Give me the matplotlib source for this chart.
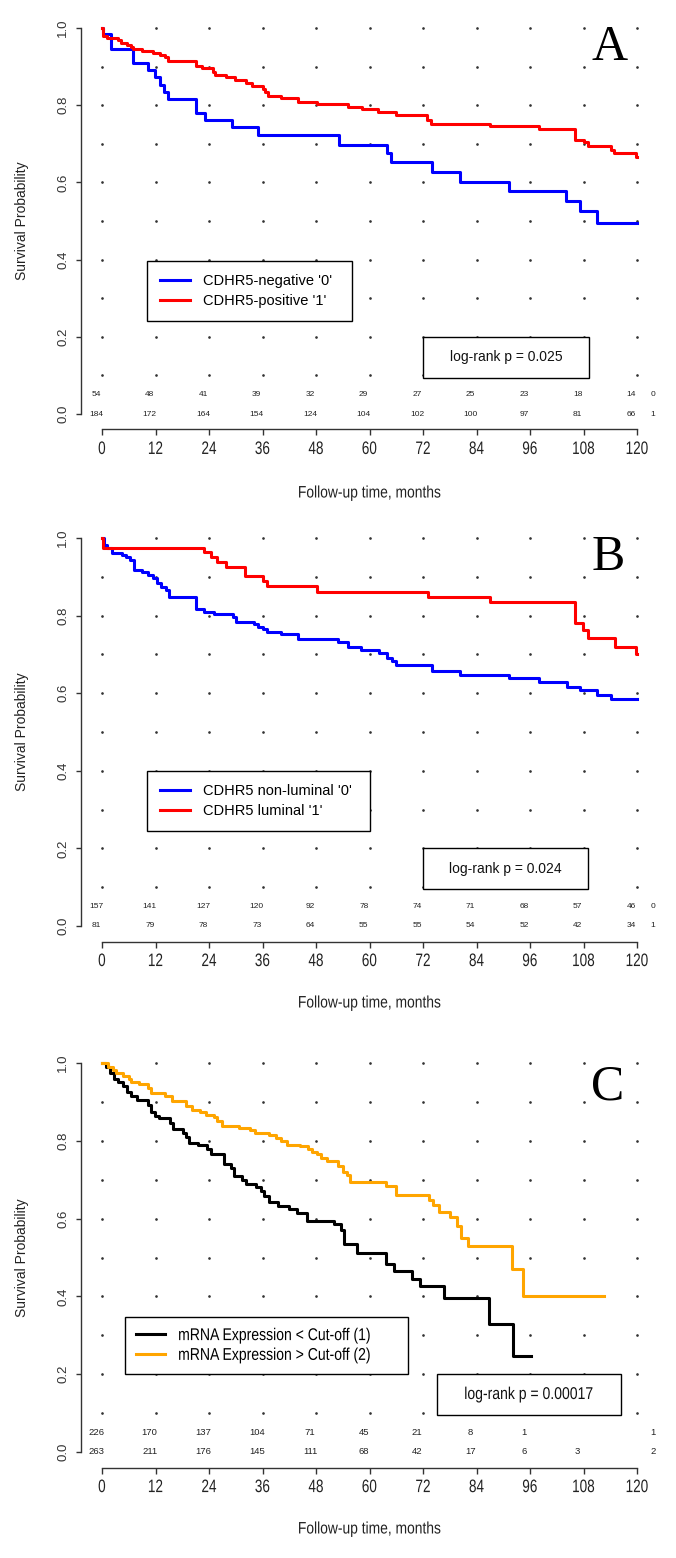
import matplotlib.pyplot as plt
from matplotlib.patches import Rectangle
from matplotlib.patheffects import AbstractPathEffect
from matplotlib.transforms import Affine2D
import numpy as np

# ------------------------------------------------------------
# data (Kaplan-Meier steps, months / survival)
# ------------------------------------------------------------
months = [0, 12, 24, 36, 48, 60, 72, 84, 96, 108, 120]

# panel A
a_neg_t = [0, 0.3, 2.0, 6.9, 10.3, 11.9, 12.9, 14.0, 14.8, 21.1, 23.0, 29.1, 35.1, 53.2,
           63.9, 64.9, 74.1, 80.2, 91.2, 104.1, 107.2, 111.0, 120]
a_neg_s = [1.0, 0.985, 0.945, 0.909, 0.890, 0.873, 0.853, 0.834, 0.816, 0.779, 0.761, 0.743,
           0.724, 0.698, 0.675, 0.652, 0.626, 0.602, 0.579, 0.552, 0.526, 0.494, 0.494]
a_pos_t = [0, 0.2, 1.1, 3.7, 4.2, 5.6, 6.6, 7.0, 9.0, 11.4, 12.9, 14.1, 14.8, 21.1, 22.5,
           24.8, 25.4, 27.8, 29.8, 32.2, 33.7, 36.1, 36.6, 37.2, 40.1, 44.0, 48.2, 55.2,
           58.3, 61.9, 66.0, 72.8, 73.8, 87.0, 98.0, 106.2, 108.1, 109.0, 114.2, 114.9,
           119.8, 120]
a_pos_s = [1.0, 0.979, 0.973, 0.968, 0.962, 0.957, 0.951, 0.946, 0.940, 0.934, 0.929, 0.924,
           0.914, 0.902, 0.896, 0.885, 0.879, 0.873, 0.866, 0.857, 0.850, 0.843, 0.835,
           0.823, 0.818, 0.807, 0.802, 0.795, 0.789, 0.783, 0.774, 0.762, 0.752, 0.745,
           0.738, 0.711, 0.705, 0.694, 0.685, 0.676, 0.667, 0.667]
a_risk0 = [54, 48, 41, 39, 32, 29, 27, 25, 23, 18, 14]
a_risk1 = [184, 172, 164, 154, 124, 104, 102, 100, 97, 81, 66]

# panel B
b_non_t = [0, 0.5, 1.1, 2.2, 4.4, 5.3, 6.3, 7.1, 9.0, 10.3, 11.4, 12.4, 13.3, 14.3, 15.0,
           21.1, 22.8, 25.1, 29.3, 30.1, 34.1, 35.1, 36.1, 37.0, 40.1, 44.0, 53.0, 55.2,
           58.0, 62.2, 63.9, 65.1, 66.0, 74.1, 80.4, 91.2, 98.0, 104.2, 107.3, 111.0,
           114.2, 120]
b_non_s = [1.0, 0.981, 0.975, 0.962, 0.956, 0.950, 0.943, 0.918, 0.912, 0.905, 0.898, 0.885,
           0.873, 0.866, 0.849, 0.816, 0.810, 0.803, 0.796, 0.784, 0.778, 0.771, 0.765,
           0.758, 0.752, 0.739, 0.732, 0.720, 0.711, 0.703, 0.690, 0.683, 0.673, 0.658,
           0.648, 0.638, 0.628, 0.617, 0.607, 0.596, 0.585, 0.585]
b_lum_t = [0, 0.2, 22.8, 24.5, 25.9, 27.8, 32.0, 36.1, 37.0, 48.2, 73.1, 87.0, 106.2, 107.9,
           109.1, 115.1, 119.8, 120]
b_lum_s = [1.0, 0.975, 0.963, 0.951, 0.938, 0.926, 0.901, 0.889, 0.876, 0.862, 0.849, 0.834,
           0.780, 0.762, 0.742, 0.720, 0.700, 0.700]
b_risk0 = [157, 141, 127, 120, 92, 78, 74, 71, 68, 57, 46]
b_risk1 = [81, 79, 78, 73, 64, 55, 55, 54, 52, 42, 34]

# panel C
c_lo_t = [0, 0.8, 1.7, 2.7, 3.7, 4.6, 5.6, 6.6, 7.8, 10.4, 11.1, 11.9, 12.7, 15.3, 16.0,
          18.2, 18.9, 19.6, 21.6, 23.5, 24.5, 27.4, 29.0, 29.6, 31.4, 32.2, 34.6, 35.6,
          36.3, 37.5, 39.5, 41.9, 43.8, 45.9, 52.0, 53.5, 54.2, 57.3, 63.6, 65.6, 69.6,
          71.4, 76.7, 86.8, 92.2, 96.2]
c_lo_s = [1.0, 0.990, 0.975, 0.960, 0.950, 0.940, 0.925, 0.915, 0.905, 0.893, 0.875, 0.863,
          0.858, 0.845, 0.830, 0.820, 0.810, 0.795, 0.790, 0.780, 0.765, 0.740, 0.730,
          0.710, 0.700, 0.688, 0.680, 0.672, 0.658, 0.642, 0.632, 0.625, 0.615, 0.594,
          0.585, 0.570, 0.535, 0.512, 0.483, 0.465, 0.446, 0.426, 0.396, 0.328, 0.246, 0.246]
c_hi_t = [0, 1.3, 2.4, 3.2, 4.6, 6.1, 6.6, 8.2, 10.4, 11.1, 14.1, 15.6, 18.9, 20.1, 22.0,
          23.3, 25.1, 25.9, 26.9, 30.8, 33.2, 34.3, 37.5, 39.0, 40.1, 41.4, 44.3, 46.2,
          47.2, 48.2, 49.1, 50.4, 53.0, 54.0, 54.9, 55.6, 63.8, 66.0, 73.3, 74.3, 75.5,
          78.1, 79.6, 80.6, 82.0, 92.0, 94.4, 112.7]
c_hi_s = [1.0, 0.990, 0.983, 0.975, 0.966, 0.958, 0.950, 0.945, 0.935, 0.924, 0.914, 0.903,
          0.890, 0.880, 0.874, 0.866, 0.860, 0.850, 0.838, 0.834, 0.829, 0.820, 0.815,
          0.808, 0.800, 0.790, 0.786, 0.780, 0.772, 0.765, 0.755, 0.748, 0.735, 0.720,
          0.712, 0.695, 0.683, 0.660, 0.648, 0.635, 0.618, 0.603, 0.580, 0.550, 0.530,
          0.470, 0.402, 0.402]
c_risk1 = [226, 170, 137, 104, 71, 45, 21, 8, 1]
c_risk2 = [263, 211, 176, 145, 111, 68, 42, 17, 6, 3]

# ------------------------------------------------------------
# layout (pixels of the 676 x 1558 image)
# ------------------------------------------------------------
W, H = 676, 1558
SANS = ['Liberation Sans', 'DejaVu Sans']
X0_PX, X120_PX = 102, 637
SX = (X120_PX - X0_PX) / 120.0


class Squeeze(AbstractPathEffect):
    """squeeze glyphs horizontally -> narrow font look (no Arial Narrow here)"""

    def __init__(self, sx=0.8, anchor='center'):
        super().__init__()
        self.sx = sx
        self.anchor = anchor

    def draw_path(self, renderer, gc, tpath, affine, rgbFace=None):
        xs = tpath.vertices[:, 0]
        cx = (xs.min() + xs.max()) / 2 if self.anchor == 'center' else xs.min()
        sq = Affine2D().translate(-cx, 0).scale(self.sx, 1).translate(cx, 0)
        renderer.draw_path(gc, tpath, sq + affine, rgbFace)


fig = plt.figure(figsize=(W / 100, H / 100), dpi=100)


def fx(px):
    return px / W


def fy(py):
    return 1 - py / H


def panel(p1, p0, curves, risk, risk_names, risk_size, legend_box, legend_kw, legend_fx,
          lr_box, lr_text, lr_size, lr_fx, letter, letter_xy, xlab_px):
    sy = p0 - p1
    left = X0_PX - 4.8 * SX
    right = X0_PX + 124.8 * SX
    top = p1 - 0.04 * sy
    bottom = p0 + 0.04 * sy
    ax = fig.add_axes([fx(left), fy(bottom), (right - left) / W, (bottom - top) / H])
    ax.set_xlim(-4.8, 124.8)
    ax.set_ylim(-0.04, 1.04)

    # dotted background grid
    gx, gy = np.meshgrid(months, np.arange(1, 11) / 10)
    ax.plot(gx.ravel(), gy.ravel(), ls='none', marker='o', ms=0.9, color='#333333', zorder=1)

    handles = []
    for t, s, col, lab in curves:
        ln, = ax.step(t, s, where='post', color=col, lw=2.2, label=lab, zorder=3)
        handles.append(ln)

    # numbers at risk
    for row, (vals, name) in enumerate(zip(risk, risk_names)):
        yv = 0.05 if row == 0 else 0.0
        for m, n in zip(months, vals):
            ax.text(m - 1.3, yv, str(n), ha='center', va='center', color='#222222',
                    fontsize=risk_size, fontfamily=SANS)
        ax.text(123.6, yv, name, ha='center', va='center', color='#222222',
                fontsize=risk_size, fontfamily=SANS)

    # axes in R style
    for s in ['top', 'right']:
        ax.spines[s].set_visible(False)
    ax.spines['left'].set_bounds(0, 1)
    ax.spines['bottom'].set_bounds(0, 120)
    for s in ['left', 'bottom']:
        ax.spines[s].set_color('#333333')
        ax.spines[s].set_linewidth(1.0)
    ax.set_xticks(months, [str(m) for m in months], fontsize=13, fontfamily=SANS,
                  color='#222222')
    for lbl in ax.get_xticklabels():
        lbl.set_path_effects([Squeeze(0.75)])
    yt = [0, 0.2, 0.4, 0.6, 0.8, 1.0]
    ax.set_yticks(yt, [f'{v:.1f}' for v in yt], fontsize=9.5, fontfamily=SANS,
                  rotation=90, va='center', color='#333333')
    ax.tick_params(axis='x', length=4.3, width=1, color='#333333', pad=4)
    ax.tick_params(axis='y', length=3.6, width=1, color='#333333', pad=4.5)

    ax.set_ylabel('Survival Probability', fontsize=10, fontfamily=SANS, color='#222222')
    ax.yaxis.set_label_coords((22 - left) / (right - left), 0.5)
    ax.yaxis.label.set_va('center')
    ax.set_xlabel('Follow-up time, months', fontsize=12, fontfamily=SANS, color='#222222',
                  path_effects=[Squeeze(0.83)])
    ax.xaxis.set_label_coords(0.5, (bottom - xlab_px) / (bottom - top))
    ax.xaxis.label.set_va('center')

    # legend
    l, t, r, b = legend_box
    leg = ax.legend(handles=handles, loc='upper left', mode='expand',
                    bbox_to_anchor=(fx(l), fy(b), (r - l) / W, (b - t) / H),
                    bbox_transform=fig.transFigure, borderaxespad=0, fancybox=False,
                    framealpha=1, **legend_kw)
    leg.get_frame().set_edgecolor('black')
    leg.get_frame().set_linewidth(1.0)
    if legend_fx is not None:
        for txt in leg.get_texts():
            txt.set_path_effects([Squeeze(legend_fx, anchor='left')])

    # log-rank box
    l, t, r, b = lr_box
    fig.add_artist(Rectangle((fx(l), fy(b)), (r - l) / W, (b - t) / H,
                             transform=fig.transFigure, facecolor='white',
                             edgecolor='black', lw=1.0))
    lr = fig.text(fx((l + r) / 2), fy((t + b) / 2), lr_text, ha='center', va='center',
                  color='#111111', fontsize=lr_size, fontfamily=SANS)
    if lr_fx is not None:
        lr.set_path_effects([Squeeze(lr_fx)])

    fig.text(fx(letter_xy[0]), fy(letter_xy[1]), letter, ha='center', va='baseline',
             fontsize=36, fontfamily=['Liberation Serif', 'DejaVu Serif'], color='black')
    return ax


leg_ab = dict(prop={'family': SANS, 'size': 10.5}, handlelength=2.05, handletextpad=0.9,
              borderpad=0.9, labelspacing=0.4)

panel(28, 414,
      [(a_neg_t, a_neg_s, '#0000FF', "CDHR5-negative '0'"),
       (a_pos_t, a_pos_s, '#FF0000', "CDHR5-positive '1'")],
      [a_risk0, a_risk1], ['0', '1'], 6,
      (147, 261, 352, 321), leg_ab, None,
      (423, 337, 589, 378), 'log-rank p = 0.025', 10, None,
      'A', (610, 60), 493)

panel(538, 926,
      [(b_non_t, b_non_s, '#0000FF', "CDHR5 non-luminal '0'"),
       (b_lum_t, b_lum_s, '#FF0000', "CDHR5 luminal '1'")],
      [b_risk0, b_risk1], ['0', '1'], 6,
      (147, 771, 370, 831), leg_ab, None,
      (423, 848, 588, 889), 'log-rank p = 0.024', 10, None,
      'B', (608, 570), 1003)

panel(1063, 1452,
      [(c_lo_t, c_lo_s, '#000000', 'mRNA Expression < Cut-off (1)'),
       (c_hi_t, c_hi_s, '#FFA500', 'mRNA Expression > Cut-off (2)')],
      [c_risk1, c_risk2], ['1', '2'], 6.8,
      (125, 1317, 408, 1376),
      dict(prop={'family': SANS, 'size': 12.3}, handlelength=1.7, handletextpad=0.76,
           borderpad=0.65, labelspacing=0.28),
      0.82,
      (437, 1374, 621, 1415), 'log-rank p = 0.00017', 12.3, 0.82,
      'C', (608, 1100), 1529)

fig.savefig('out.png', dpi=100)
